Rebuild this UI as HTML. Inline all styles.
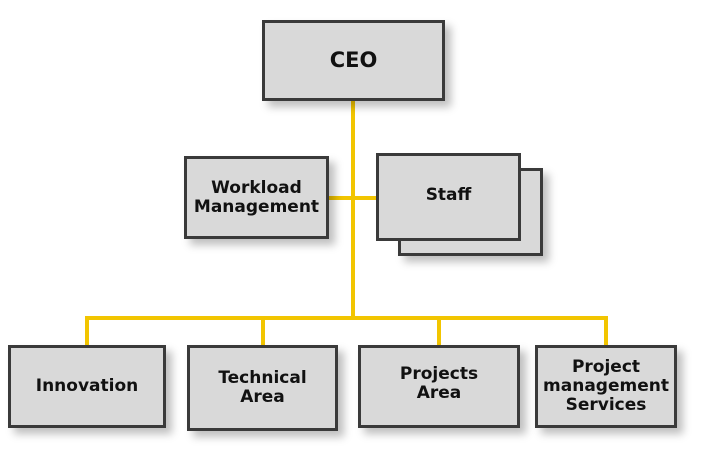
<!DOCTYPE html>
<html><head><style>
body{margin:0;width:704px;height:449px;background:#fff;position:relative;overflow:hidden;font-family:"DejaVu Sans",Verdana,sans-serif;}
.b{position:absolute;box-sizing:border-box;background:#d9d9d9;border:3px solid #3a3a3a;display:flex;align-items:center;justify-content:center;text-align:center;font-weight:bold;font-size:17px;line-height:19px;color:#111;box-shadow:6px 6px 8px rgba(0,0,0,0.25);}
.l{position:absolute;background:#f2c500;}
</style></head><body>
<div class="l" style="left:351px;top:100px;width:4px;height:220px"></div>
<div class="l" style="left:329px;top:196px;width:48px;height:4px"></div>
<div class="l" style="left:86px;top:316px;width:522px;height:4px"></div>
<div class="l" style="left:85px;top:316px;width:4px;height:30px"></div>
<div class="l" style="left:261px;top:316px;width:4px;height:30px"></div>
<div class="l" style="left:437px;top:316px;width:4px;height:30px"></div>
<div class="l" style="left:604px;top:316px;width:4px;height:30px"></div>
<div class="b" style="left:262px;top:20px;width:183px;height:81px;font-size:21px">CEO</div>
<div class="b" style="left:184px;top:156px;width:145px;height:83px">Workload<br>Management</div>
<div class="b" style="left:398px;top:168px;width:145px;height:88px"></div>
<div class="b" style="left:376px;top:153px;width:145px;height:88px;box-shadow:none;padding-bottom:4px">Staff</div>
<div class="b" style="left:8px;top:345px;width:158px;height:83px">Innovation</div>
<div class="b" style="left:187px;top:345px;width:151px;height:86px">Technical<br>Area</div>
<div class="b" style="left:358px;top:345px;width:162px;height:83px;padding-bottom:6px">Projects<br>Area</div>
<div class="b" style="left:535px;top:345px;width:142px;height:83px">Project<br>management<br>Services</div>
</body></html>
